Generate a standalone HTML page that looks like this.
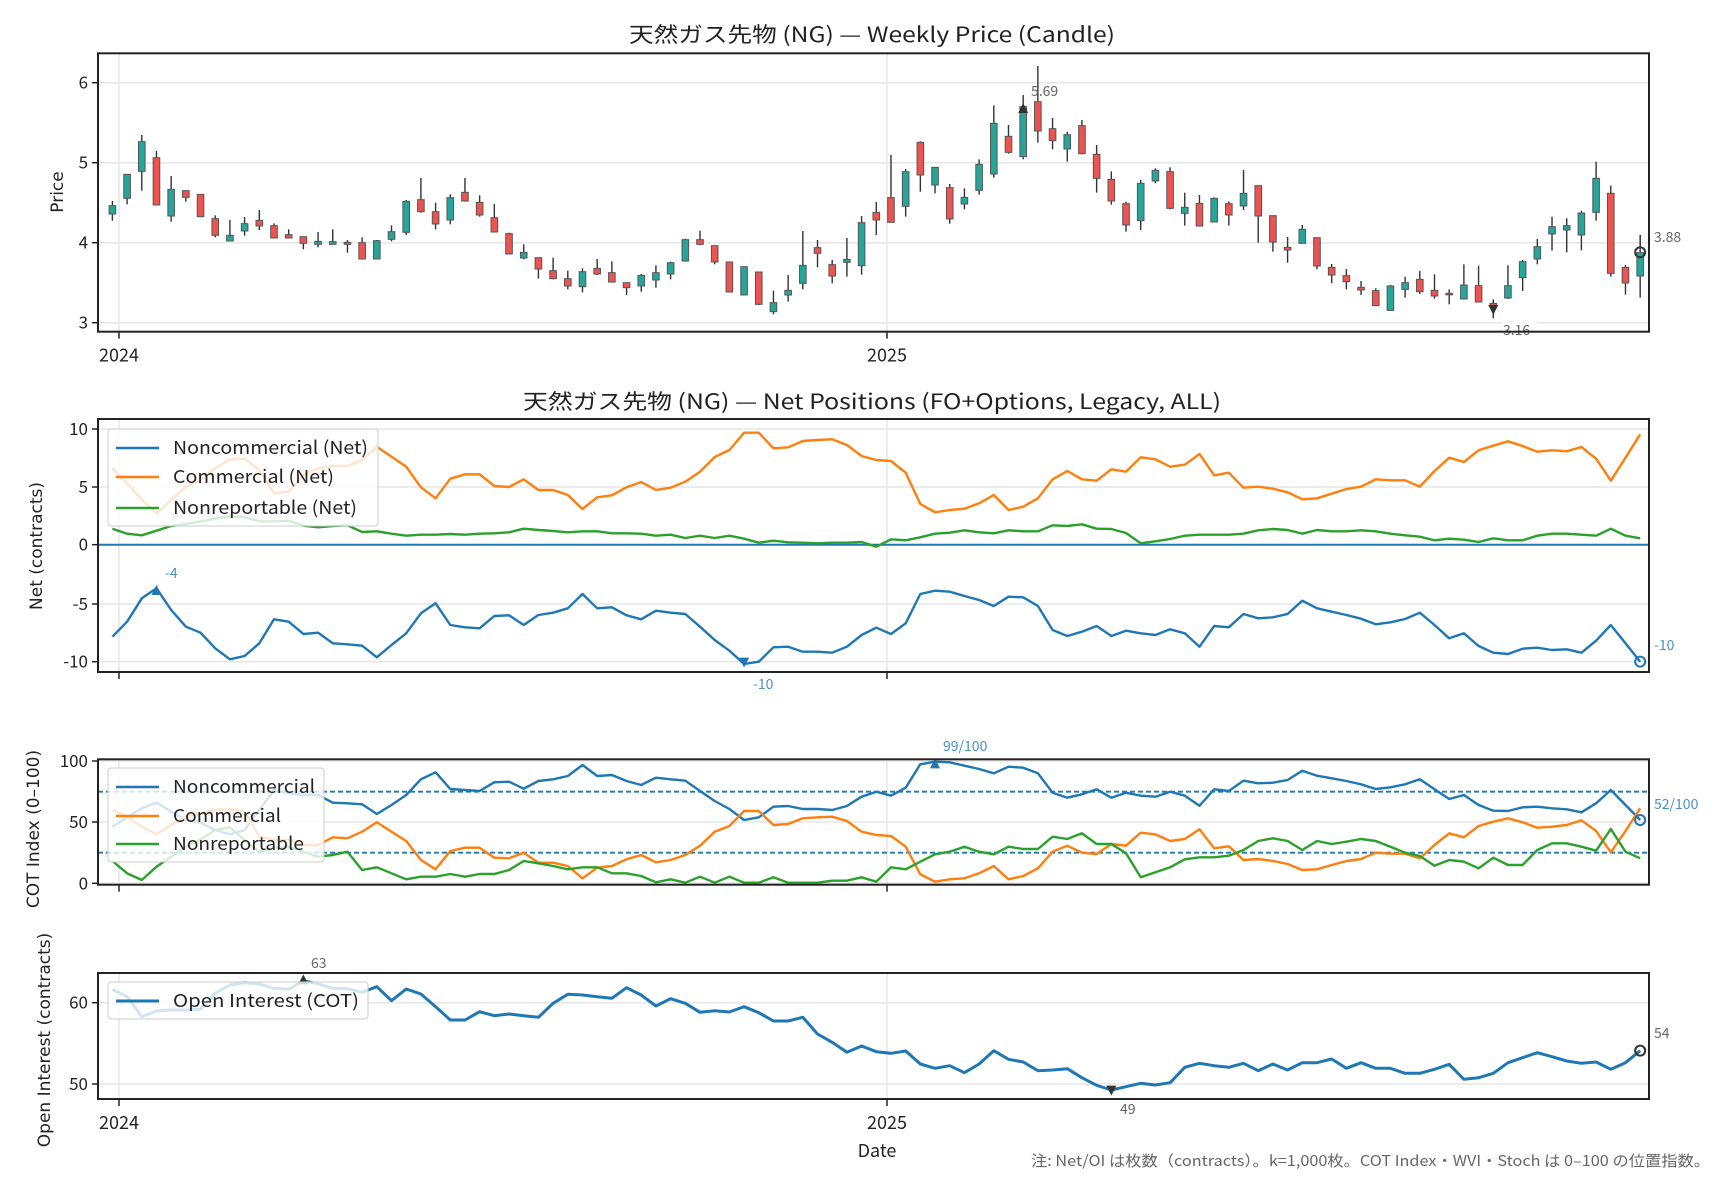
<!DOCTYPE html>
<html><head><meta charset="utf-8">
<style>
html,body{margin:0;padding:0;background:#fff;}
svg{display:block;}
text{font-family:"Liberation Sans","Noto Sans CJK JP",sans-serif;}
.t{font-family:"Noto Sans CJK JP","Liberation Sans",sans-serif;}
.yl{font-family:"DejaVu Sans","Liberation Sans",sans-serif;font-size:17px;fill:#222;}
</style></head>
<body>
<svg id="s" width="1728" height="1180" xmlns="http://www.w3.org/2000/svg"></svg>
<script>
const S=document.getElementById('s');let h='';
const X=i=>112.4+i*14.69;
const L=98,R=1649;
function frame(t,b){return `<rect x="${L}" y="${t}" width="${R-L}" height="${b-t}" fill="none" stroke="#222" stroke-width="2"/>`;}
function hgrid(y){return `<line x1="${L}" x2="${R}" y1="${y}" y2="${y}" stroke="#e6e6e6" stroke-width="1.5"/>`;}
function vgrid(t,b){return [119,887].map(x=>`<line x1="${x}" x2="${x}" y1="${t}" y2="${b}" stroke="#e6e6e6" stroke-width="1.5"/>`).join('');}
function ytick(y,lab){return `<line x1="${L-6}" x2="${L}" y1="${y}" y2="${y}" stroke="#222" stroke-width="1.5"/><text class="t" x="${L-10}" y="${y+6}" font-size="17" text-anchor="end" fill="#222">${lab}</text>`;}
function xticks(b,lab){return [[119,'2024'],[887,'2025']].map(([x,l])=>`<line x1="${x}" x2="${x}" y1="${b}" y2="${b+7}" stroke="#222" stroke-width="1.5"/>`+(lab?`<text class="t" x="${x}" y="${b+30}" font-size="18" text-anchor="middle" fill="#222">${l}</text>`:'')).join('');}
function poly(arr,f,col,w,extra){return `<polyline fill="none" stroke="${col}" stroke-width="${w}" stroke-linejoin="round" ${extra||''} points="${arr.map((v,i)=>X(i).toFixed(1)+','+f(v).toFixed(1)).join(' ')}"/>`;}
function tri(x,y,up,col,s){s=s||6;return up?`<polygon points="${x-s},${y+s} ${x+s},${y+s} ${x},${y-s}" fill="${col}"/>`:`<polygon points="${x-s},${y-s} ${x+s},${y-s} ${x},${y+s}" fill="${col}"/>`;}
function txt(x,y,s,col,size,anchor,bg){let r='';if(bg){r+=`<rect x="${x-2}" y="${y-13}" width="${s.length*8+4}" height="17" fill="#fff" opacity="0.85"/>`;}return r+`<text class="t" x="${x}" y="${y}" font-size="${size||14}" fill="${col}" text-anchor="${anchor||'start'}">${s}</text>`;}
function leg(l,y,len){return `<text class="t" x="173" y="${y+6}" font-size="18" fill="#222" textLength="${len}" lengthAdjust="spacingAndGlyphs">${l}</text>`;}

// ---------- Titles
h+=`<text class="t" x="629" y="42" font-size="21" fill="#222" textLength="486" lengthAdjust="spacingAndGlyphs">天然ガス先物 (NG) — Weekly Price (Candle)</text>`;
h+=`<text class="t" x="523" y="409" font-size="21" fill="#222" textLength="698" lengthAdjust="spacingAndGlyphs">天然ガス先物 (NG) — Net Positions (FO+Options, Legacy, ALL)</text>`;

// ---------- Price panel
const PT=53.3,PB=331.7;
h+=vgrid(PT,PB);
[82.7,162.7,242.7,322.7].forEach(y=>h+=hgrid(y));
const C=[
['g',617,642,603,662],['g',523,595,523,613],['g',425,514,405,572],['r',473,615,453,615],['g',568,648,528,665],['r',572,592,572,605],['r',583,650,583,652],['r',656,706,646,712],['g',706,723,660,723],['g',671,693,651,707],
['r',661,678,630,690],['r',677,714,670,714],['r',704,714,688,714],['r',710,730,710,748],['g',724,733,696,742],['g',725,733,688,733],['r',727,733,720,758],['r',728,777,712,777],['g',722,777,720,777],['g',695,718,676,724],
['g',604,697,600,705],['r',599,635,534,638],['r',635,672,608,688],['g',593,660,583,673],['r',577,603,534,605],['r',607,645,586,650],['r',653,696,612,697],['r',701,762,698,762],['g',757,774,733,778],['r',773,807,773,836],
['r',812,836,773,838],['r',836,858,812,868],['g',815,860,805,877],['r',805,822,777,825],['r',818,846,784,848],['r',848,863,848,885],['g',826,858,822,875],['g',818,840,796,863],['g',788,822,785,838],['g',719,783,716,785],
['r',719,733,692,736],['r',737,786,737,793],['r',786,876,786,876],['g',800,885,800,885],['r',816,913,816,915],['g',908,935,872,943],['g',871,885,825,905],['g',796,850,693,868],['r',743,760,720,802],['r',794,828,780,850],
['g',778,787,714,830],['g',668,797,648,824],['r',637,660,606,705],['r',593,667,465,667],['g',515,619,507,650],['r',427,525,424,575],['g',502,555,502,580],['r',563,657,552,671],['g',592,612,565,628],['g',493,571,478,584],
['g',370,522,316,533],['r',409,457,375,461],['g',320,470,285,478],['r',305,393,198,428],['r',386,422,354,448],['g',404,447,395,485],['r',377,461,360,463],['r',463,535,435,578],['r',538,603,514,614],['r',611,675,605,695],
['g',550,662,540,690],['g',511,543,505,550],['r',515,625,502,628],['g',622,640,578,677],['r',610,678,585,678],['g',595,666,592,666],['r',611,645,604,677],['g',580,618,510,630],['r',557,648,557,728],['r',647,726,647,755],
['r',742,750,711,788],['g',688,730,675,730],['r',713,798,713,808],['r',802,825,792,850],['r',827,845,807,868],['r',862,870,843,885],['r',872,917,865,917],['g',858,931,855,933],['g',848,868,830,893],['r',838,875,813,882],
['r',871,888,823,896],['r',880,883,868,913],['g',855,897,793,897],['r',857,906,798,906],['r',910,916,898,955],['g',857,894,796,897],['g',785,833,780,873],['g',740,777,717,793],['g',680,702,650,752],['g',677,690,655,757],
['g',639,705,632,751],['g',535,637,485,662],['r',580,820,557,830],['r',802,849,795,884],['g',758,828,705,893]];
C.forEach((c,i)=>{const x=X(i);const bt=c[1]/3,bb=c[2]/3,wt=c[3]/3,wb=c[4]/3;
h+=`<line x1="${x}" x2="${x}" y1="${wt}" y2="${wb}" stroke="#333" stroke-width="1.4"/>`;
h+=`<rect x="${x-3.3}" y="${bt}" width="6.6" height="${Math.max(bb-bt,1.5)}" fill="${c[0]=='g'?'#26a69a':'#ef5350'}" stroke="#555" stroke-width="1"/>`;});
h+=tri(X(62),108,true,'#333',5);
h+=tri(X(94),310,false,'#333',5);
h+=`<circle cx="${X(104)}" cy="252.3" r="5" fill="none" stroke="#333" stroke-width="2"/>`;
h+=`<line x1="${X(104)}" x2="${X(104)}" y1="235" y2="249" stroke="#333" stroke-width="1.4"/>`;
h+=txt(1031,96,'5.69','#666',14);
h+=txt(1503,335,'3.16','#666',14,'start',true);
h+=txt(1654,242,'3.88','#666',14);
h+=frame(PT,PB);
[[82.7,6],[162.7,5],[242.7,4],[322.7,3]].forEach(([y,l])=>h+=ytick(y,l));
h+=xticks(PB,true);
h+=`<text class="yl" transform="translate(63,192) rotate(-90)" text-anchor="middle">Price</text>`;

// ---------- Net panel
const NT=419,NB=672;const nf=v=>380+v/3;
h+=vgrid(NT,NB);
[429,487,544.7,604,661.7].forEach(y=>h+=hgrid(y));
const NB_=[770,725,655,625,690,740,758,805,838,828,790,718,725,762,758,790,793,797,832,795,760,700,670,735,742,745,708,706,735,705,698,685,642,685,682,706,718,692,698,702,740,780,812,852,845,802,800,815,815,818,800,765,
743,762,730,642,632,635,648,660,678,650,652,678,750,768,755,738,768,752,760,765,748,760,800,738,742,702,715,712,702,662,685,695,705,716,733,727,717,698,735,775,760,798,818,822,806,803,810,808,818,782,735,790,845];
const NO=[265,310,360,400,360,320,300,265,238,236,270,340,335,285,265,258,258,240,200,230,260,322,355,296,283,283,318,321,298,330,330,345,387,352,346,322,306,330,323,305,275,231,210,158,158,205,202,183,180,178,195,228,
240,243,278,372,397,390,386,370,345,390,380,355,298,273,298,302,268,275,232,238,260,254,222,286,278,323,320,326,337,358,355,341,327,320,298,301,301,320,273,233,246,211,197,184,198,215,211,214,201,236,302,233,163];
const NG=[446,461,466,452,438,432,424,416,409,412,424,424,422,437,442,438,436,456,454,461,467,464,464,462,464,461,460,457,446,450,453,457,454,454,460,460,461,467,464,474,467,474,467,476,488,482,487,488,490,488,488,486,
500,478,481,472,461,458,451,457,460,451,454,454,436,438,433,446,447,459,490,484,477,467,464,464,464,461,451,447,450,461,450,454,454,451,454,461,466,470,481,476,479,486,475,481,481,467,461,461,464,467,446,467,475];
h+=`<line x1="${L}" x2="${R}" y1="544.7" y2="544.7" stroke="#1f77b4" stroke-width="2"/>`;
h+=poly(NB_,nf,'#1f77b4',2.4);
h+=poly(NO,nf,'#ff7f0e',2.4);
h+=poly(NG,nf,'#2ca02c',2.4);
h+=tri(X(3),nf(630),true,'#1f77b4',5);
h+=tri(X(43),nf(848),false,'#1f77b4',5);
h+=`<circle cx="${X(104)}" cy="${nf(845)}" r="5" fill="none" stroke="#1f77b4" stroke-width="2"/>`;
h+=txt(165,578,'-4','#4a90c8',14);
h+=txt(753,689,'-10','#4a90c8',14);
h+=txt(1654,650,'-10','#4a90c8',14);
h+=`<rect x="108" y="429" width="270" height="97" rx="3" fill="#fff" fill-opacity="0.8" stroke="#ccc" stroke-width="1"/>`;
[['#1f77b4','Noncommercial (Net)',448,195],['#ff7f0e','Commercial (Net)',477,161],['#2ca02c','Nonreportable (Net)',508,184]].forEach(([c,l,y,n])=>{h+=`<line x1="116" x2="159" y1="${y}" y2="${y}" stroke="${c}" stroke-width="2.5"/>`+leg(l,y,n);});
h+=frame(NT,NB);
[[429,10],[487,5],[544.7,0],[604,-5],[661.7,-10]].forEach(([y,l])=>h+=ytick(y,l));
h+=xticks(NB,false);
h+=`<text class="yl" transform="translate(42,546) rotate(-90)" text-anchor="middle">Net (contracts)</text>`;

// ---------- COT panel
const CT=759.3,CB=884.7;const cf=v=>730+v/3;
h+=vgrid(CT,CB);
[761,822,883.3].forEach(y=>h+=hgrid(y));
const CBl=[290,262,235,218,245,270,278,300,313,300,240,180,190,195,195,218,220,223,252,225,195,148,127,177,180,183,157,155,176,153,148,138,105,138,135,153,165,143,148,152,183,213,237,270,262,230,228,237,237,240,228,200,
185,197,173,103,95,97,107,117,130,110,113,130,188,203,193,178,203,188,197,200,185,197,227,178,183,152,160,158,150,122,137,145,153,163,177,172,163,148,178,207,195,225,242,243,232,230,235,238,247,220,180,225,270];
const COr=[240,260,290,312,285,260,250,240,238,245,320,330,330,345,345,322,325,305,277,305,333,390,418,363,353,353,383,385,368,398,398,408,445,413,408,388,375,397,390,375,347,305,288,243,243,285,282,265,262,260,273,305,
315,318,350,433,455,448,445,430,408,448,438,415,365,347,368,372,342,347,308,313,333,327,298,355,349,390,387,393,402,420,418,405,393,387,368,371,371,385,345,310,322,288,275,265,277,293,290,285,271,303,367,303,235];
const CGr=[393,430,450,410,380,350,328,300,292,330,365,355,350,365,380,375,365,420,412,430,448,440,440,432,440,432,432,420,393,400,408,418,412,412,430,430,438,457,448,458,440,458,440,458,458,442,458,458,458,452,452,442,
455,412,418,395,373,365,350,365,373,350,357,357,320,327,310,342,342,370,442,427,412,388,382,382,377,360,333,325,333,360,333,342,335,327,333,350,368,378,407,390,395,415,383,405,405,360,340,340,350,362,297,365,385];
h+=`<line x1="${L}" x2="${R}" y1="${cf(185)}" y2="${cf(185)}" stroke="#1f77b4" stroke-width="1.8" stroke-dasharray="5,3"/>`;
h+=`<line x1="${L}" x2="${R}" y1="${cf(368)}" y2="${cf(368)}" stroke="#1f77b4" stroke-width="1.8" stroke-dasharray="5,3"/>`;
h+=poly(CBl,cf,'#1f77b4',2.4);
h+=poly(COr,cf,'#ff7f0e',2.4);
h+=poly(CGr,cf,'#2ca02c',2.4);
h+=tri(X(56),cf(100),true,'#1f77b4',5);
h+=`<circle cx="${X(104)}" cy="${cf(270)}" r="5" fill="none" stroke="#1f77b4" stroke-width="2"/>`;
h+=txt(943,751,'99/100','#4a90c8',14);
h+=txt(1654,809,'52/100','#4a90c8',14);
h+=`<rect x="108" y="768" width="216" height="94" rx="3" fill="#fff" fill-opacity="0.8" stroke="#ccc" stroke-width="1"/>`;
[['#1f77b4','Noncommercial',787,142],['#ff7f0e','Commercial',816,108],['#2ca02c','Nonreportable',844,131]].forEach(([c,l,y,n])=>{h+=`<line x1="116" x2="159" y1="${y}" y2="${y}" stroke="${c}" stroke-width="2.5"/>`+leg(l,y,n);});
h+=frame(CT,CB);
[[761,100],[822,50],[883.3,0]].forEach(([y,l])=>h+=ytick(y,l));
h+=xticks(CB,false);
h+=`<text class="yl" transform="translate(39,829) rotate(-90)" text-anchor="middle">COT Index (0–100)</text>`;

// ---------- OI panel
const OT=973,OB=1099;
h+=vgrid(OT,OB);
[1002.7,1084].forEach(y=>h+=hgrid(y));
const OI=[778,800,860,843,840,840,838,790,765,758,762,775,778,752,762,775,776,787,770,812,777,792,830,870,870,845,857,852,857,862,820,793,795,800,805,773,795,828,806,820,847,842,846,830,848,873,873,862,912,937,967,948,
965,970,963,1002,1015,1007,1028,1002,962,988,996,1022,1020,1016,1043,1066,1080,1070,1060,1065,1058,1012,1000,1007,1012,1000,1022,1002,1020,998,998,987,1015,998,1015,1015,1030,1030,1018,1003,1048,1043,1030,998,983,968,980,993,1000,996,1018,998,962];
h+=poly(OI,cf,'#1f77b4',3);
h+=tri(X(13),cf(748),true,'#333',5);
h+=tri(X(68),cf(1082),false,'#333',5);
h+=`<circle cx="${X(104)}" cy="${cf(962)}" r="5" fill="none" stroke="#333" stroke-width="2"/>`;
h+=txt(311,968,'63','#666',14,'start',true);
h+=txt(1120,1114,'49','#666',14,'start',true);
h+=txt(1654,1038,'54','#666',14);
h+=`<rect x="108" y="982" width="260" height="37" rx="3" fill="#fff" fill-opacity="0.8" stroke="#ccc" stroke-width="1"/>`;
h+=`<line x1="116" x2="159" y1="1001" y2="1001" stroke="#1f77b4" stroke-width="3"/>`+leg('Open Interest (COT)',1001,186);
h+=frame(OT,OB);
[[1002.7,60],[1084,50]].forEach(([y,l])=>h+=ytick(y,l));
h+=xticks(OB,true);
h+=`<text class="yl" transform="translate(50,1040) rotate(-90)" text-anchor="middle">Open Interest (contracts)</text>`;
h+=`<text class="t" x="877" y="1157" font-size="18" text-anchor="middle" fill="#222">Date</text>`;
h+=`<text class="t" x="1031" y="1166" font-size="15" fill="#666" textLength="679" lengthAdjust="spacingAndGlyphs">注: Net/OI は枚数（contracts）。k=1,000枚。COT Index・WVI・Stoch は 0–100 の位置指数。</text>`;
S.innerHTML=h;
</script>
</body></html>
